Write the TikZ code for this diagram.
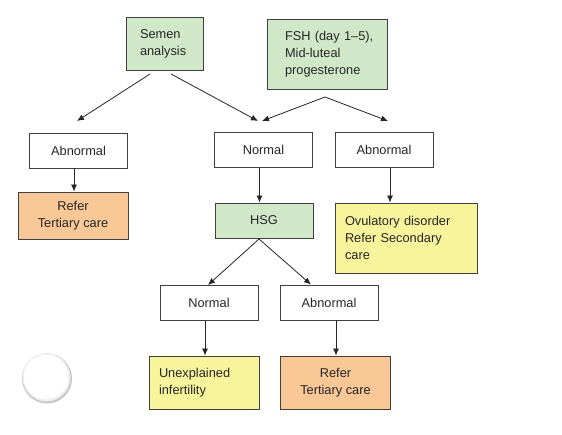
\documentclass[tikz,border=0pt]{standalone}
\usepackage{fontspec}
\setmainfont{Liberation Sans}
\usetikzlibrary{arrows.meta}
\definecolor{boxgreen}{HTML}{D0E8C8}
\definecolor{boxorange}{HTML}{FAC896}
\definecolor{boxyellow}{HTML}{F8F49C}
\definecolor{edge}{HTML}{404040}
\begin{document}
\begin{tikzpicture}[x=1pt,y=-1pt,
  box/.style={draw=edge, line width=0.9pt, rectangle, font=\fontsize{12.8}{17}\selectfont, text=black!85, inner ysep=0pt},
  wbox/.style={box, fill=white, minimum width=98pt, minimum height=35pt, align=center},
  gbox/.style={box, fill=boxgreen},
  obox/.style={box, fill=boxorange, minimum width=110pt, minimum height=47pt, align=center},
  ybox/.style={box, fill=boxyellow},
  conn/.style={draw=black!85, line width=0.8pt, -{Latex[length=7pt,width=6pt]}}]
\useasboundingbox (0,0) rectangle (562,435);
\fill[white] (0,0) rectangle (562,435);
% top row
\node[gbox, minimum width=77pt, minimum height=53pt, text width=55pt, inner xsep=11pt, align=left] (semen) at (164.5,43.5) {\hspace*{3pt}Semen\\\hspace*{3pt}analysis};
\node[gbox, minimum width=120pt, minimum height=70pt, text width=100pt, inner xsep=10pt, align=left] (fsh) at (327,54) {\hspace*{8pt}FSH (day 1--5),\\\hspace*{8pt}Mid-luteal\\\hspace*{8pt}progesterone};
% second row
\node[wbox] (abn1) at (78.5,150.5) {Abnormal};
\node[wbox] (norm1) at (263.5,150) {Normal};
\node[wbox] (abn2) at (384,150) {Abnormal};
% third row
\node[obox] (ref1) at (73,215.5) {Refer\\Tertiary care};
\node[gbox, minimum width=98pt, minimum height=35pt] (hsg) at (264,220.5) {HSG};
\node[ybox, minimum width=142pt, minimum height=70pt, text width=122pt, inner xsep=10pt, align=left] (ovu) at (406,238) {Ovulatory disorder\\Refer Secondary\\care};
% fourth row
\node[wbox] (norm2) at (209,303) {Normal};
\node[wbox] (abn3) at (329,302.5) {Abnormal};
% fifth row
\node[ybox, minimum width=110pt, minimum height=53pt, text width=90pt, inner xsep=10pt, align=left] (unex) at (204,382.5) {Unexplained\\infertility};
\node[obox, minimum height=53pt] (ref2) at (335.5,382.5) {Refer\\Tertiary care};
% connector points
\coordinate (s1) at (150,74);
\coordinate (s2) at (171,74);
\coordinate (f1) at (325,97);
\coordinate (t1) at (77,121);
\coordinate (t2) at (258,121);
\coordinate (t3) at (262,121);
\coordinate (t4) at (388,121);
\coordinate (h0) at (259,239);
\draw[conn] (s1) -- (t1);
\draw[conn] (s2) -- (t2);
\draw[conn] (f1) -- (t3);
\draw[conn] (f1) -- (t4);
\draw[conn] (abn1.south -| ref1.north) ++(1,0) coordinate (a1s) -- (a1s |- ref1.north);
\draw[conn] (norm1.south) ++(-4,0) coordinate (n1s) -- (n1s |- hsg.north);
\draw[conn] (abn2.south) ++(6,0) coordinate (a2s) -- (a2s |- ovu.north);
\draw[conn] (h0) -- ([xshift=-1pt]norm2.north);
\draw[conn] (h0) -- ([xshift=-18pt]abn3.north);
\draw[conn] (norm2.south) ++(-4,0) coordinate (n2s) -- (n2s |- unex.north);
\draw[conn] (abn3.south) ++(7,0) coordinate (a3s) -- (a3s |- ref2.north);
% decorative circle
\fill[gray!45] (47,378.5) circle (25);
\fill[gray!15] (46.5,377.5) circle (24);
\fill[white] (46,377) circle (22.5);
\end{tikzpicture}
\end{document}
